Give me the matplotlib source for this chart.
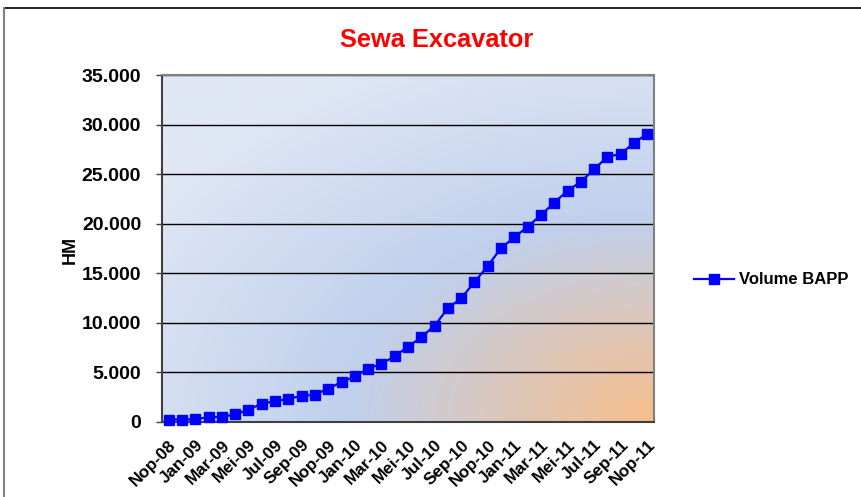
import numpy as np
import matplotlib
matplotlib.use("Agg")
import matplotlib.pyplot as plt
from matplotlib.lines import Line2D
from matplotlib.ticker import FuncFormatter, MultipleLocator

plt.rcParams['font.family'] = ['Liberation Sans', 'DejaVu Sans']

months = ["Nop-08", "Des-08", "Jan-09", "Feb-09", "Mar-09", "Apr-09", "Mei-09", "Jun-09",
          "Jul-09", "Agu-09", "Sep-09", "Okt-09", "Nop-09", "Des-09", "Jan-10", "Feb-10",
          "Mar-10", "Apr-10", "Mei-10", "Jun-10", "Jul-10", "Agu-10", "Sep-10", "Okt-10",
          "Nop-10", "Des-10", "Jan-11", "Feb-11", "Mar-11", "Apr-11", "Mei-11", "Jun-11",
          "Jul-11", "Agu-11", "Sep-11", "Okt-11", "Nop-11"]
volume_bapp = [250, 250, 270, 500, 500, 770, 1240, 1850, 2080, 2350, 2620, 2750,
               3360, 4030, 4600, 5380, 5880, 6620, 7600, 8540, 9720, 11470, 12480,
               14120, 15740, 17550, 18630, 19700, 20880, 22120, 23330, 24240, 25490,
               26760, 27030, 28170, 29050]
series_name = "Volume BAPP"
title = "Sewa Excavator"
ylabel = "HM"

W, H = 862, 497
fig = plt.figure(figsize=(W / 100, H / 100), dpi=100)
fig.patch.set_facecolor("white")

ax = fig.add_axes([162 / W, 1 - 422 / H, 492 / W, 347 / H])

# gradient background
ny, nx = 200, 300
u = np.linspace(0, 1, nx)[None, :]
v = np.linspace(1, 0, ny)[:, None]
r = np.sqrt(((1 - u) * 1.0) ** 2 + (v * 1.05) ** 2)
orange = np.array([248, 190, 138]) / 255
blue = np.array([192, 208, 236]) / 255
pale = np.array([224, 231, 245]) / 255
t1 = np.clip(r / 0.62, 0, 1)[..., None]
t2 = np.clip((r - 0.62) / 0.6, 0, 1)[..., None]
c1 = orange * (1 - t1) + blue * t1
c2 = blue * (1 - t2) + pale * t2
img = np.where((r < 0.62)[..., None], c1, c2)
ax.imshow(img, extent=[0, 1, 0, 1], transform=ax.transAxes, aspect="auto", zorder=0,
          interpolation="bilinear")

x = np.arange(len(months))
ax.plot(x, volume_bapp, color="#0000FF", lw=1.6, marker="s", markersize=7.5,
        markeredgecolor="#0000FF", label=series_name, zorder=3, clip_on=False)

ax.set_xlim(-0.5, len(months) - 0.5)
ax.set_ylim(0, 35000)
ax.yaxis.set_major_locator(MultipleLocator(5000))
ax.yaxis.set_major_formatter(FuncFormatter(lambda val, p: f"{int(val):,}".replace(",", ".")))
ax.grid(axis="y", color="black", lw=1.0, zorder=1)
for gl in ax.get_ygridlines():
    gl.set_zorder(1)

ax.set_xticks(x[::2])
ax.set_xticklabels(months[::2], rotation=45, ha="right", rotation_mode="anchor",
                   fontsize=12.3, fontweight="bold")
ax.tick_params(axis="x", length=0, pad=11)
ax.tick_params(axis="y", length=4, width=1, color="#404040", labelsize=14, pad=11)
for lab in ax.get_yticklabels():
    lab.set_fontweight("bold")

for side in ["top", "right"]:
    ax.spines[side].set_color("#808080")
    ax.spines[side].set_linewidth(1.5)
for side in ["left", "bottom"]:
    ax.spines[side].set_color("#404040")
    ax.spines[side].set_linewidth(1.5)

fig.text(437 / W, 1 - 40 / H, title, color="#FF0000", fontsize=18.3, fontweight="bold",
         ha="center", va="center")
fig.text(70.5 / W, 1 - 250 / H, ylabel, rotation=90, fontsize=13, fontweight="bold",
         ha="center", va="center")

leg = fig.legend(loc="center left", bbox_to_anchor=(694 / W, 1 - 280 / H), frameon=False,
                 prop={"weight": "bold", "size": 12}, handlelength=2.4, handletextpad=0.3,
                 borderpad=0, borderaxespad=0)

fig.add_artist(Line2D([4 / W, 1], [1 - 8 / H, 1 - 8 / H], color="black", lw=1.2,
                      transform=fig.transFigure))
fig.add_artist(Line2D([4 / W, 4 / W], [1 - 8 / H, 0], color="#808080", lw=1.5,
                      transform=fig.transFigure))

fig.savefig("out.png", dpi=100)
